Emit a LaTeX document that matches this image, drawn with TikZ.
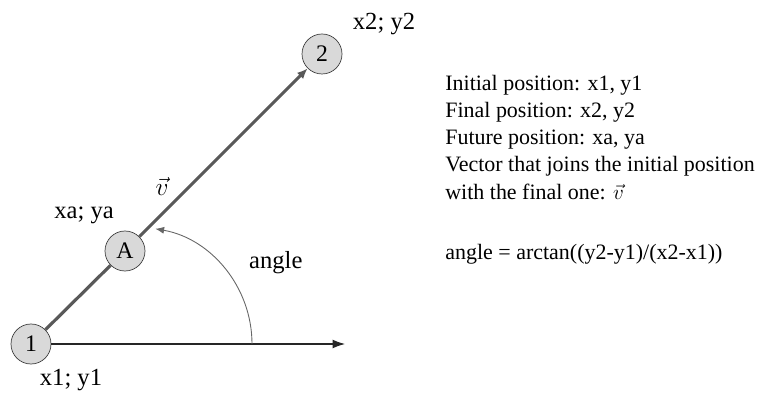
\documentclass[tikz,border=0pt]{standalone}
\usepackage{fontspec}
\setmainfont{Liberation Serif}
\usetikzlibrary{arrows.meta}
\tikzset{
  posnode/.style={circle, draw=black!75, fill=black!15, minimum size=0.8cm, inner sep=0pt, font=\fontsize{13.5}{15}\selectfont},
  lbl/.style={font=\fontsize{14}{16}\selectfont}
}
\begin{document}
\begin{tikzpicture}
            \useasboundingbox (0,0) rectangle (15.16,7.94);
            \node[posnode] (p1) at (0.62,1.06) {1};
            \node[posnode] (p2) at (6.44,6.86) {2};
            \node[posnode] (pa) at (2.5,2.92) {A};
            \coordinate (xend) at (6.9,1.06);
            \coordinate (arcstart) at (5.04,1.06);
            \draw[-{Latex[length=7pt,width=5pt]}, black!85, line width=0.6pt] (p1) -- (xend);
            \draw[line width=1.8pt, black!65] (p1) -- (pa);
            \draw[-{Latex[length=6pt,width=5pt]}, line width=1.8pt, black!65] (pa) -- (p2);
            \draw[black!60, line width=0.5pt, -{Latex[length=5pt,width=4pt]}] (arcstart) arc[start angle=0, end angle=80, radius=2.34];
            \node[lbl] (l2) at (7.68,7.46) {x2; y2};
            \node[lbl] (la) at (1.68,3.64) {xa; ya};
            \node[lbl] (l1) at (1.42,0.34) {x1; y1};
            \node[lbl] (lv) at (3.24,4.22) {$\vec{v}$};
            \node[lbl, anchor=west] (lang) at (4.86,2.68) {angle};
            \node[anchor=north west, align=left, inner sep=0pt, font=\fontsize{12.5}{15.5}\selectfont] (txt) at (8.9,6.45)
            {Initial position: x1, y1\\ Final position: x2, y2\\ Future position: xa, ya\\
             Vector that joins the initial position\\ with the final one: $\vec{v}$\\[19pt]
             angle = arctan((y2-y1)/(x2-x1))};
        \end{tikzpicture}
\end{document}
